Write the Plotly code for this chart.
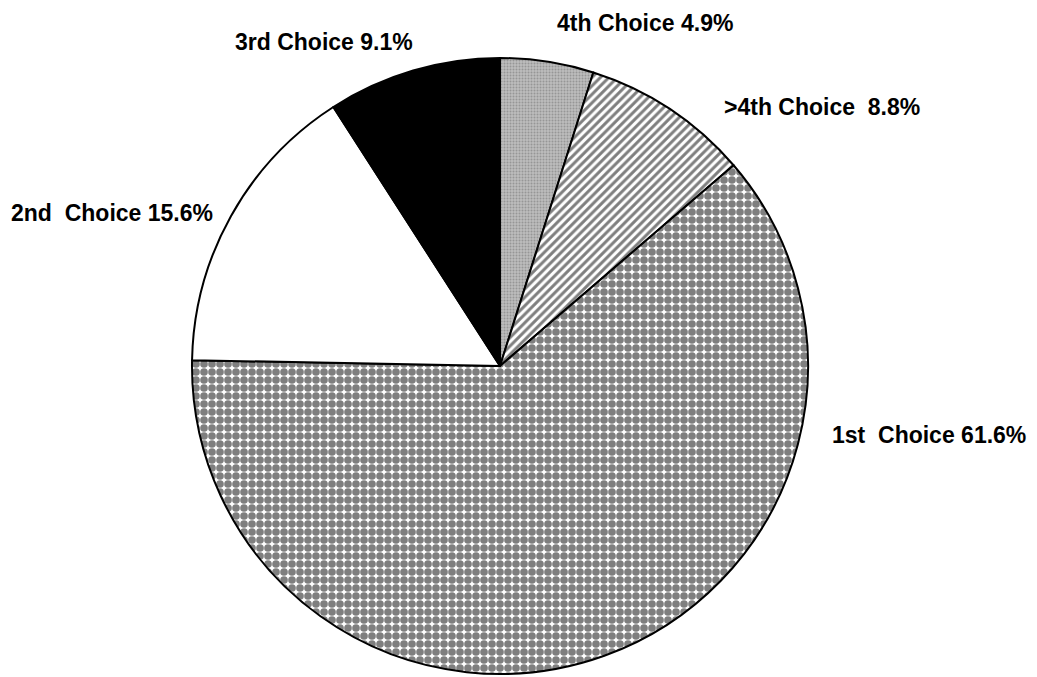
import plotly.graph_objects as go

categories = ["4th Choice", ">4th Choice", "1st Choice", "2nd Choice", "3rd Choice"]
values = [4.9, 8.8, 61.6, 15.6, 9.1]
label_texts = ["4th Choice 4.9%", ">4th Choice\u00a0\u00a08.8%", "1st\u00a0\u00a0Choice 61.6%",
               "2nd\u00a0\u00a0Choice 15.6%", "3rd Choice 9.1%"]

OFF = 8  # default page body margin
W, H = 1037 - OFF, 677 - OFF
# label positions in window pixels (left edge x, center y)
label_pos = [(555, 23), (722, 107), (830, 435), (9, 213), (233, 42)]

fills = ["#bcbcbc", "white", "white", "white", "black"]
pat_shapes = [".", "/", ".", "", ""]
pat_fg = ["#707070", "black", "black", "black", "black"]
pat_size = [3, 6, 8, 8, 8]
pat_solid = [0.35, 0.5, 0.72, 0.3, 0.3]

cx, cy, r = 500 - OFF, 366 - OFF, 308
fig = go.Figure(go.Pie(
    labels=categories,
    values=values,
    sort=False,
    direction="clockwise",
    rotation=0,
    textinfo="none",
    hoverinfo="label+percent",
    showlegend=False,
    marker=dict(
        colors=fills,
        line=dict(color="black", width=2),
        pattern=dict(shape=pat_shapes, fgcolor=pat_fg, bgcolor=fills,
                     size=pat_size, solidity=pat_solid, fillmode="overlay"),
    ),
    domain=dict(x=[(cx - r) / W, (cx + r) / W], y=[1 - (cy + r) / H, 1 - (cy - r) / H]),
))

for t, (px, py) in zip(label_texts, label_pos):
    fig.add_annotation(text=t, x=(px - OFF) / W, y=1 - (py - OFF) / H, xref="paper", yref="paper",
                       xanchor="left", yanchor="middle", showarrow=False,
                       font=dict(family="Liberation Sans, Arial", size=23, color="black", weight="bold"))

fig.update_layout(width=W, height=H, margin=dict(l=0, r=0, t=0, b=0),
                  paper_bgcolor="white", plot_bgcolor="white")
fig.write_html("out.html")
